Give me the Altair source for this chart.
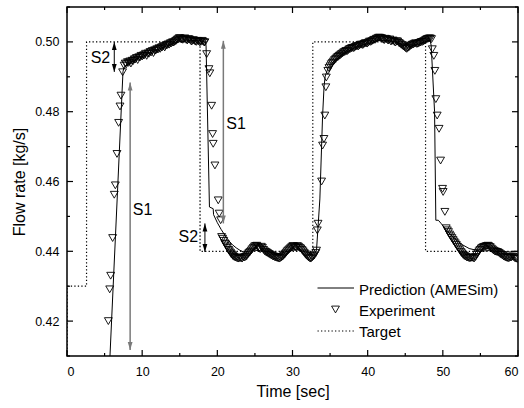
import altair as alt
import pandas as pd

# ---------------- data ----------------
# Target (set-point) step profile, drawn as step-after
target_x = [0.0, 0.0, 2.6, 17.7, 32.7, 47.7, 60.0]
target_y = [0.400, 0.430, 0.500, 0.440, 0.500, 0.440, 0.440]

# Prediction (AMESim)
pred_x = [5.61, 7.45, 7.60, 9.0, 11.0, 13.0, 14.5, 15.5, 17.0, 18.4, 18.50, 18.95,
          19.45, 19.50, 20.0, 20.5, 21.0, 21.5, 22.0, 22.5, 23.0, 23.5, 25.0, 26.5,
          28.0, 29.5, 30.5, 32.0, 33.1, 33.2, 33.64, 34.0, 34.2, 34.35, 34.75, 35.5,
          36.5, 37.5, 38.5, 39.5, 40.5, 41.5, 43.0, 44.0, 45.3, 46.5, 47.5, 48.3,
          48.45, 48.9, 49.07, 49.4, 49.8, 50.5, 51.5, 52.5, 53.5, 55.0, 56.0, 57.5,
          59.0, 60.0]
pred_y = [0.4050, 0.4915, 0.4928, 0.4948, 0.4968, 0.4986, 0.4998, 0.5003, 0.5004, 0.5002,
          0.4990, 0.4527, 0.4522, 0.4505, 0.4482, 0.4463, 0.4446, 0.4431, 0.4419, 0.4410,
          0.4403, 0.4398, 0.4403, 0.4400, 0.4393, 0.4400, 0.4405, 0.4397, 0.4398, 0.4405,
          0.4550, 0.4787, 0.4873, 0.4902, 0.4926, 0.4945, 0.4962, 0.4975, 0.4985, 0.4992,
          0.4998, 0.5005, 0.5003, 0.4998, 0.4985, 0.4992, 0.4999, 0.5005, 0.4990, 0.4800,
          0.4489, 0.4489, 0.4479, 0.4460, 0.4438, 0.4420, 0.4408, 0.4400, 0.4402, 0.4400,
          0.4398, 0.4400]

# Experiment - first rise
exp1_x = [5.50, 5.68, 5.81, 6.07, 6.29, 6.43, 6.65, 6.87, 7.05, 7.18, 7.40]
exp1_y = [0.4200, 0.4291, 0.4330, 0.4438, 0.4562, 0.4589, 0.4679, 0.4768, 0.4815, 0.4846, 0.4913]
# Experiment - first high plateau
exp2_x = [7.60, 7.75, 7.90, 8.05, 8.20, 8.35, 8.50, 8.65, 8.80, 8.95, 9.10, 9.25, 9.40,
          9.55, 9.70, 9.85, 10.00, 10.15, 10.30, 10.45, 10.60, 10.75, 10.90, 11.05,
          11.20, 11.35, 11.50, 11.65, 11.80, 11.95, 12.10, 12.25, 12.40, 12.55, 12.70,
          12.85, 13.00, 13.15, 13.30, 13.45, 13.60, 13.75, 13.90, 14.05, 14.20, 14.35,
          14.50, 14.65, 14.80, 14.95, 15.10, 15.25, 15.40, 15.55, 15.70, 15.85, 16.00,
          16.15, 16.30, 16.45, 16.60, 16.75, 16.90, 17.05, 17.20, 17.35, 17.50, 17.65,
          17.80, 17.95, 18.10, 18.25, 18.35]
exp2_y = [0.4932, 0.4938, 0.4936, 0.4942, 0.4940, 0.4944, 0.4938, 0.4946, 0.4945, 0.4950,
          0.4950, 0.4954, 0.4948, 0.4956, 0.4955, 0.4960, 0.4958, 0.4961, 0.4962, 0.4966,
          0.4960, 0.4967, 0.4966, 0.4971, 0.4970, 0.4974, 0.4968, 0.4976, 0.4975, 0.4979,
          0.4978, 0.4982, 0.4980, 0.4984, 0.4985, 0.4988, 0.4984, 0.4990, 0.4990, 0.4993,
          0.4992, 0.4996, 0.4996, 0.4999, 0.4998, 0.5001, 0.5003, 0.5006, 0.5008, 0.5011,
          0.5010, 0.5007, 0.5006, 0.5009, 0.5010, 0.5006, 0.5004, 0.5008, 0.5007, 0.5003,
          0.5001, 0.5005, 0.5004, 0.5001, 0.5000, 0.5003, 0.5002, 0.4999, 0.5000, 0.5003,
          0.5001, 0.4998, 0.4999]
# Experiment - first fall
exp3_x = [18.58, 18.88, 19.00, 19.24, 19.37, 19.45, 19.68, 20.12, 20.25, 20.44, 20.57]
exp3_y = [0.4965, 0.4922, 0.4910, 0.4817, 0.4736, 0.4708, 0.4646, 0.4546, 0.4508, 0.4489, 0.4441]
# Experiment - first low plateau
exp4_x = [20.70, 20.85, 21.00, 21.10, 21.25, 21.35, 21.50, 21.60, 21.75, 21.85, 22.00,
          22.10, 22.25, 22.40, 22.55, 22.70, 22.85, 23.00, 23.15, 23.30, 23.45, 23.60,
          23.75, 23.90, 24.05, 24.20, 24.35, 24.50, 24.65, 24.80, 24.95, 25.10, 25.25,
          25.40, 25.55, 25.70, 25.85, 26.00, 26.15, 26.30, 26.45, 26.60, 26.75, 26.90,
          27.05, 27.20, 27.35, 27.50, 27.65, 27.80, 27.95, 28.10, 28.25, 28.40, 28.55,
          28.70, 28.85, 29.00, 29.15, 29.30, 29.45, 29.60, 29.75, 29.90, 30.05, 30.20,
          30.35, 30.50, 30.65, 30.80, 30.95, 31.10, 31.25, 31.40, 31.55, 31.70, 31.85,
          32.00, 32.15, 32.30, 32.45, 32.60, 32.75, 32.90, 33.10]
exp4_y = [0.4436, 0.4430, 0.4422, 0.4420, 0.4414, 0.4410, 0.4404, 0.4400, 0.4396, 0.4392,
          0.4389, 0.4386, 0.4384, 0.4382, 0.4381, 0.4380, 0.4379, 0.4381, 0.4380, 0.4379,
          0.4383, 0.4382, 0.4384, 0.4386, 0.4391, 0.4395, 0.4398, 0.4402, 0.4406, 0.4410,
          0.4414, 0.4415, 0.4416, 0.4412, 0.4408, 0.4406, 0.4413, 0.4410, 0.4404, 0.4400,
          0.4398, 0.4396, 0.4394, 0.4392, 0.4390, 0.4388, 0.4386, 0.4385, 0.4383, 0.4382,
          0.4381, 0.4380, 0.4379, 0.4381, 0.4383, 0.4385, 0.4389, 0.4392, 0.4396, 0.4400,
          0.4403, 0.4406, 0.4409, 0.4412, 0.4415, 0.4414, 0.4412, 0.4410, 0.4415, 0.4413,
          0.4410, 0.4408, 0.4404, 0.4400, 0.4396, 0.4392, 0.4388, 0.4385, 0.4382, 0.4380,
          0.4379, 0.4382, 0.4385, 0.4388, 0.4395]
# Experiment - second rise
exp5_x = [33.20, 33.30, 33.40, 33.87, 34.00, 34.18, 34.30, 34.44, 34.50, 34.70]
exp5_y = [0.4402, 0.4460, 0.4479, 0.4600, 0.4703, 0.4722, 0.4789, 0.4870, 0.4898, 0.4917]
# Experiment - second high plateau
exp6_x = [34.85, 35.0, 35.15, 35.3, 35.45, 35.6, 35.75, 35.9, 36.05, 36.2, 36.35, 36.5,
          36.65, 36.8, 36.95, 37.1, 37.25, 37.4, 37.55, 37.7, 37.85, 38.0, 38.15, 38.3,
          38.45, 38.6, 38.75, 38.9, 39.05, 39.2, 39.35, 39.5, 39.65, 39.8, 39.95, 40.1,
          40.25, 40.4, 40.55, 40.7, 40.85, 41.0, 41.15, 41.3, 41.45, 41.6, 41.75, 41.9,
          42.05, 42.2, 42.35, 42.5, 42.65, 42.8, 42.95, 43.1, 43.25, 43.4, 43.55, 43.7,
          43.85, 44.0, 44.15, 44.3, 44.45, 44.6, 44.75, 44.9, 45.05, 45.2, 45.35, 45.5,
          45.65, 45.8, 45.95, 46.1, 46.25, 46.4, 46.55, 46.7, 46.85, 47.0, 47.15, 47.3,
          47.45, 47.6, 47.75, 47.9, 48.05, 48.2, 48.35]
exp6_y = [0.4925, 0.4930, 0.4936, 0.4940, 0.4944, 0.4948, 0.4951, 0.4955, 0.4957, 0.4960,
          0.4962, 0.4965, 0.4967, 0.4970, 0.4971, 0.4974, 0.4973, 0.4976, 0.4979, 0.4980,
          0.4982, 0.4983, 0.4982, 0.4985, 0.4987, 0.4988, 0.4987, 0.4990, 0.4992, 0.4992,
          0.4991, 0.4994, 0.4996, 0.4996, 0.4995, 0.4998, 0.5001, 0.5000, 0.5002, 0.5004,
          0.5006, 0.5006, 0.5009, 0.5010, 0.5012, 0.5012, 0.5011, 0.5010, 0.5007, 0.5005,
          0.5009, 0.5008, 0.5005, 0.5004, 0.5007, 0.5001, 0.5003, 0.5004, 0.5000, 0.4998,
          0.5002, 0.5001, 0.4997, 0.4995, 0.4992, 0.4990, 0.4987, 0.4985, 0.4982, 0.4980,
          0.4983, 0.4985, 0.4988, 0.4990, 0.4992, 0.4993, 0.4995, 0.4996, 0.4994, 0.4995,
          0.4997, 0.4998, 0.5000, 0.5000, 0.5002, 0.5004, 0.5006, 0.5008, 0.5009, 0.5010,
          0.5010]
# Experiment - second fall
exp7_x = [48.50, 48.60, 48.80, 48.94, 49.07, 49.25, 49.50, 49.70, 49.96, 50.04, 50.27]
exp7_y = [0.5008, 0.4979, 0.4960, 0.4917, 0.4836, 0.4789, 0.4751, 0.4660, 0.4579, 0.4570, 0.4513]
# Experiment - second low plateau
exp8_x = [50.45, 50.60, 50.75, 50.90, 51.05, 51.20, 51.35, 51.50, 51.65, 51.80, 51.95,
          52.10, 52.25, 52.40, 52.55, 52.70, 52.85, 53.00, 53.15, 53.30, 53.45, 53.60,
          53.75, 53.90, 54.05, 54.20, 54.35, 54.50, 54.65, 54.80, 54.95, 55.10, 55.25,
          55.40, 55.55, 55.70, 55.85, 56.00, 56.15, 56.30, 56.45, 56.60, 56.75, 56.90,
          57.05, 57.20, 57.35, 57.50, 57.65, 57.80, 57.95, 58.10, 58.25, 58.40, 58.55,
          58.70, 58.85, 59.00, 59.15, 59.30, 59.45, 59.60, 59.75, 59.90]
exp8_y = [0.4466, 0.4460, 0.4455, 0.4448, 0.4443, 0.4438, 0.4433, 0.4428, 0.4423, 0.4418,
          0.4413, 0.4408, 0.4403, 0.4398, 0.4394, 0.4390, 0.4387, 0.4385, 0.4383, 0.4382,
          0.4381, 0.4380, 0.4381, 0.4382, 0.4380, 0.4380, 0.4384, 0.4390, 0.4395, 0.4400,
          0.4404, 0.4408, 0.4410, 0.4412, 0.4413, 0.4414, 0.4415, 0.4416, 0.4414, 0.4412,
          0.4408, 0.4405, 0.4402, 0.4400, 0.4399, 0.4398, 0.4397, 0.4395, 0.4392, 0.4390,
          0.4388, 0.4385, 0.4384, 0.4382, 0.4381, 0.4380, 0.4381, 0.4382, 0.4383, 0.4385,
          0.4383, 0.4380, 0.4379, 0.4378]

exp_x = exp1_x + exp2_x + exp3_x + exp4_x + exp5_x + exp6_x + exp7_x + exp8_x
exp_y = exp1_y + exp2_y + exp3_y + exp4_y + exp5_y + exp6_y + exp7_y + exp8_y

# Annotations: S1 (step size, gray) and S2 (overshoot, black) double arrows
s1_x = [8.4, 20.8]
s1_top = [0.4884, 0.5003]
s1_bot = [0.4117, 0.4480]
s1_label_x = [8.75, 21.2]
s1_label_y = [0.4517, 0.4765]
s2_x = [6.29, 18.35]
s2_top = [0.5000, 0.4480]
s2_bot = [0.4914, 0.4398]
s2_label_x = [5.75, 17.45]
s2_label_y = [0.4955, 0.4441]

x_major = [0, 10, 20, 30, 40, 50, 60]
x_minor = [5, 15, 25, 35, 45, 55]
y_major = [0.42, 0.44, 0.46, 0.48, 0.50]
y_minor = [0.41, 0.43, 0.45, 0.47, 0.49, 0.51]

legend_labels = ["Prediction (AMESim)", "Experiment", "Target"]

# ---------------- chart ----------------
W, H = 451, 349
FONT = "Liberation Sans"
TRI = 62

xs = alt.Scale(domain=[0, 60], nice=False, zero=False)
ys = alt.Scale(domain=[0.41, 0.51], nice=False, zero=False)
xaxis = alt.Axis(values=x_major, format="d", ticks=False, domain=False, grid=False,
                 labelPadding=9, labelFontSize=12.5, title="Time [sec]",
                 titleFontSize=16, titleFontWeight="normal", titlePadding=6)
yaxis = alt.Axis(values=y_major, format=".2f", ticks=False, domain=False, grid=False,
                 labelPadding=8, labelFontSize=12.5, title="Flow rate [kg/s]",
                 titleFontSize=16, titleFontWeight="normal", titleX=-43,
                 titleBaseline="alphabetic")


def X(f):
    return alt.X(f, type="quantitative", scale=xs, axis=xaxis)


def Y(f):
    return alt.Y(f, type="quantitative", scale=ys, axis=yaxis)


target_df = pd.DataFrame({"x": target_x, "y": target_y})
pred_df = pd.DataFrame({"x": pred_x, "y": pred_y})
exp_df = pd.DataFrame({"x": exp_x, "y": exp_y})
s1_df = pd.DataFrame({"x": s1_x, "top": s1_top, "bot": s1_bot,
                      "lx": s1_label_x, "ly": s1_label_y, "t": ["S1", "S1"]})
s2_df = pd.DataFrame({"x": s2_x, "top": s2_top, "bot": s2_bot,
                      "lx": s2_label_x, "ly": s2_label_y, "t": ["S2", "S2"]})

target = alt.Chart(target_df).mark_line(
    interpolate="step-after", color="black", strokeWidth=1.2, strokeDash=[1.3, 2.2], clip=True
).encode(x=X("x"), y=Y("y"))

pred = alt.Chart(pred_df).mark_line(color="black", strokeWidth=1, clip=True).encode(
    x=X("x"), y=Y("y"))

exp = alt.Chart(exp_df).mark_point(
    shape="triangle-down", filled=False, color="black", strokeWidth=0.9, size=TRI, opacity=1, clip=True
).encode(x=X("x"), y=Y("y"))

UP = "M0,0L0.3,1L-0.3,1Z"
DOWN = "M0,0L0.3,-1L-0.3,-1Z"


def arrows(df, color, sw):
    shaft = alt.Chart(df).mark_rule(color=color, strokeWidth=sw).encode(
        x=X("x"), y=Y("top"), y2="bot")
    up = alt.Chart(df).mark_point(shape=UP, filled=True, color=color, size=256, opacity=1).encode(
        x=X("x"), y=Y("top"))
    dn = alt.Chart(df).mark_point(shape=DOWN, filled=True, color=color, size=256, opacity=1).encode(
        x=X("x"), y=Y("bot"))
    return [shaft, up, dn]


s1_text = alt.Chart(s1_df).mark_text(align="left", baseline="middle", fontSize=16, font=FONT).encode(
    x=X("lx"), y=Y("ly"), text="t")
s2_text = alt.Chart(s2_df).mark_text(align="right", baseline="middle", fontSize=16, font=FONT).encode(
    x=X("lx"), y=Y("ly"), text="t")


# inward ticks on all four sides
def xticks(vals, ln):
    d = pd.DataFrame({"t": vals})
    bot = alt.Chart(d).mark_rule(color="black", strokeWidth=1.2).encode(
        x=X("t"), y=alt.value(H), y2=alt.value(H - ln))
    top = alt.Chart(d).mark_rule(color="black", strokeWidth=1.2).encode(
        x=X("t"), y=alt.value(0), y2=alt.value(ln))
    return [bot, top]


def yticks(vals, ln):
    d = pd.DataFrame({"t": vals})
    left = alt.Chart(d).mark_rule(color="black", strokeWidth=1.2).encode(
        y=Y("t"), x=alt.value(0), x2=alt.value(ln))
    right = alt.Chart(d).mark_rule(color="black", strokeWidth=1.2).encode(
        y=Y("t"), x=alt.value(W), x2=alt.value(W - ln))
    return [left, right]


# legend (manual, lower right inside the frame)
one = pd.DataFrame({"a": [0]})
lg_line = alt.Chart(one).mark_rule(color="black", strokeWidth=1).encode(
    x=alt.value(250.5), x2=alt.value(287), y=alt.value(281))
lg_pt = alt.Chart(one).mark_point(shape="triangle-down", filled=False, color="black",
                                  strokeWidth=0.9, size=TRI, opacity=1).encode(
    x=alt.value(268.5), y=alt.value(302.5))
lg_dot = alt.Chart(one).mark_rule(color="black", strokeWidth=1.2, strokeDash=[1.3, 2.2]).encode(
    x=alt.value(250.5), x2=alt.value(287), y=alt.value(324))
lg_t = [
    alt.Chart(one).mark_text(align="left", baseline="alphabetic", fontSize=15, font=FONT,
                             text=legend_labels[i]).encode(x=alt.value(292), y=alt.value(yy))
    for i, yy in enumerate([287.5, 308.5, 329.5])
]

layers = ([target, pred, exp] + arrows(s1_df, "#7a7a7a", 1.5) + arrows(s2_df, "black", 1)
          + [s1_text, s2_text] + xticks(x_major, 6) + xticks(x_minor, 3)
          + yticks(y_major, 6) + yticks(y_minor, 3) + [lg_line, lg_pt, lg_dot] + lg_t)

chart = alt.layer(*layers).properties(
    width=W, height=H,
    autosize=alt.AutoSizeParams(type="none"),
    padding={"left": 67, "top": 7, "right": 6, "bottom": 52},
    background="white",
).configure_view(stroke="black", strokeWidth=1.5).configure_axis(
    labelFont=FONT, titleFont=FONT, labelColor="black", titleColor="black",
    titleFontWeight="normal"
)

chart.save("out.html", embed_options={"renderer": "svg", "actions": False})
